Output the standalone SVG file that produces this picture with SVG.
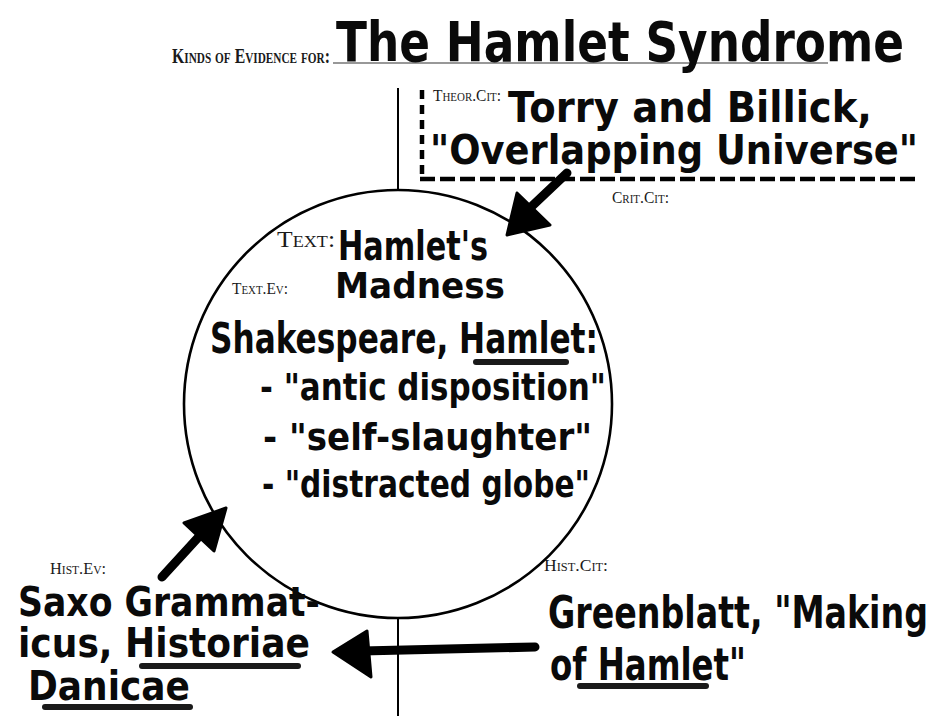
<svg xmlns="http://www.w3.org/2000/svg" width="934" height="716" viewBox="0 0 934 716">
<style>
.hw{font-family:"DejaVu Sans",sans-serif;font-weight:bold;fill:#0a0a0a}
.sc{font-family:"Liberation Serif","Times New Roman",serif;font-variant:small-caps;fill:#1a1a1a}
.ul{stroke:#1a1a1a;stroke-width:6;stroke-linecap:round;fill:none}
.line{stroke:#000;stroke-width:2;fill:none}
.shaft{stroke:#000;stroke-width:9;stroke-linecap:round;fill:none}
.head{fill:#000;stroke:#000;stroke-width:3;stroke-linejoin:round}
</style>
<rect width="934" height="716" fill="#fff"/>
<g id="title">
<text class="sc" x="172" y="63" font-size="21" font-weight="bold" textLength="158" lengthAdjust="spacingAndGlyphs">Kinds of Evidence for:</text>
<line x1="333" y1="63" x2="828" y2="63" stroke="#333" stroke-width="1.2"/>
<text class="hw" x="336" y="61" font-size="56" textLength="568" lengthAdjust="spacingAndGlyphs">The Hamlet Syndrome</text>
</g>
<g id="frame">
<line class="line" x1="398" y1="88" x2="398" y2="190"/>
<line class="line" x1="398" y1="618" x2="398" y2="716"/>
<path d="M422,90 V179" stroke="#000" stroke-width="4.5" stroke-dasharray="9 6" fill="none"/>
<path d="M420,179 H916" stroke="#000" stroke-width="4.5" stroke-dasharray="15 5" fill="none"/>
</g>
<g id="theor-cit">
<text class="sc" x="433" y="101" font-size="17" textLength="68" lengthAdjust="spacingAndGlyphs">Theor.Cit:</text>
<text class="hw" x="508" y="122" font-size="42" textLength="364" lengthAdjust="spacingAndGlyphs">Torry and Billick,</text>
<text class="hw" x="430" y="164" font-size="40" textLength="488" lengthAdjust="spacingAndGlyphs">"Overlapping Universe"</text>
</g>
<g id="crit-cit">
<text class="sc" x="612" y="203" font-size="17" textLength="57" lengthAdjust="spacingAndGlyphs">Crit.Cit:</text>
</g>
<g id="text-node">
<circle cx="398" cy="404" r="214" fill="none" stroke="#000" stroke-width="2.6"/>
<text class="sc" x="277" y="247" font-size="24" textLength="58" lengthAdjust="spacingAndGlyphs">Text:</text>
<text class="hw" x="338" y="260" font-size="40" textLength="150" lengthAdjust="spacingAndGlyphs">Hamlet's</text>
<text class="hw" x="335" y="298" font-size="36" textLength="170" lengthAdjust="spacingAndGlyphs">Madness</text>
<text class="sc" x="232" y="294" font-size="17" textLength="56" lengthAdjust="spacingAndGlyphs">Text.Ev:</text>
<text class="hw" x="210" y="353" font-size="42" textLength="388" lengthAdjust="spacingAndGlyphs">Shakespeare, Hamlet:</text>
<line class="ul" x1="476" y1="362" x2="566" y2="362"/>
<text class="hw" x="260" y="400" font-size="38" textLength="346" lengthAdjust="spacingAndGlyphs">- "antic disposition"</text>
<text class="hw" x="263" y="450" font-size="38" textLength="329" lengthAdjust="spacingAndGlyphs">- "self-slaughter"</text>
<text class="hw" x="262" y="497" font-size="38" textLength="328" lengthAdjust="spacingAndGlyphs">- "distracted globe"</text>
</g>
<g id="hist-ev">
<text class="sc" x="50" y="574" font-size="17" textLength="56" lengthAdjust="spacingAndGlyphs">Hist.Ev:</text>
<text class="hw" x="18" y="616" font-size="40" textLength="302" lengthAdjust="spacingAndGlyphs">Saxo Grammat-</text>
<text class="hw" x="18" y="657" font-size="40" textLength="292" lengthAdjust="spacingAndGlyphs">icus, Historiae</text>
<line class="ul" x1="142" y1="666" x2="298" y2="666"/>
<text class="hw" x="28" y="700" font-size="40" textLength="162" lengthAdjust="spacingAndGlyphs">Danicae</text>
<line class="ul" x1="45" y1="707" x2="190" y2="707"/>
</g>
<g id="hist-cit">
<text class="sc" x="544" y="571" font-size="17" textLength="64" lengthAdjust="spacingAndGlyphs">Hist.Cit:</text>
<text class="hw" x="548" y="628" font-size="44" textLength="380" lengthAdjust="spacingAndGlyphs">Greenblatt, "Making</text>
<text class="hw" x="550" y="680" font-size="44" textLength="196" lengthAdjust="spacingAndGlyphs">of Hamlet"</text>
<line class="ul" x1="580" y1="686" x2="706" y2="686"/>
</g>
<g id="connectors">
<line class="shaft" x1="567" y1="173" x2="530" y2="208"/>
<polygon class="head" points="507,235 517,193 550,225"/>
<line class="shaft" x1="162" y1="577" x2="205" y2="530"/>
<polygon class="head" points="226,508 184,523 214,551"/>
<line class="shaft" x1="535" y1="647" x2="362" y2="651"/>
<polygon class="head" points="333,652 367,631 371,677"/>
</g>
</svg>
